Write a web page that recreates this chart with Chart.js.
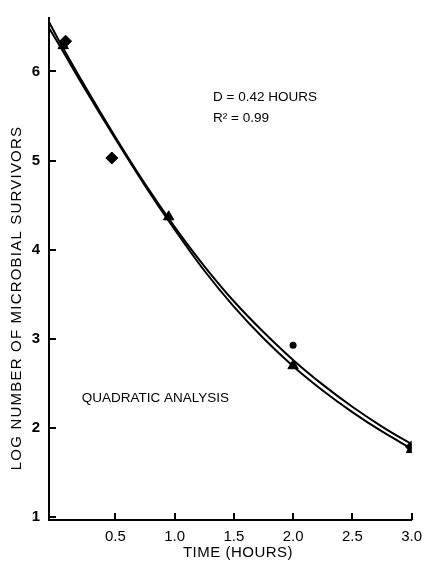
<!DOCTYPE html>
<html>
<head>
<meta charset="utf-8">
<script src="https://cdn.jsdelivr.net/npm/chart.js@4.4.1/dist/chart.umd.min.js"></script>
<style>
  html, body { margin: 0; padding: 0; background: #fff; }
  #wrap { width: 430px; height: 564px; }
</style>
</head>
<body>
<div id="wrap"><canvas id="survivorChart" width="430" height="564"></canvas></div>
<script>
'use strict';

// the two fitted curves at these times
const curveTimes = [-0.06, 0, 0.25, 0.5, 0.75, 1.0, 1.25, 1.5, 1.75, 2.0, 2.25, 2.5, 2.75, 3.0];
const curveUpper = [6.555, 6.405, 5.82, 5.265, 4.74, 4.258, 3.818, 3.423, 3.078, 2.765, 2.488, 2.24, 2.018, 1.82];
const curveLower = [6.485, 6.355, 5.79, 5.245, 4.72, 4.228, 3.768, 3.363, 3.008, 2.695, 2.423, 2.18, 1.963, 1.77];

// observed survivors
const diamondTimes = [0.08, 0.47, 3.0];
const diamondLogs = [6.34, 5.03, 1.79];
const triangleTimes = [0.06, 0.95, 2.0, 3.0];
const triangleLogs = [6.29, 4.37, 2.70, 1.76];
const circleTimes = [2.0];
const circleLogs = [2.93];

const xTickValues = [0.5, 1.0, 1.5, 2.0, 2.5, 3.0];
const yTickValues = [1, 2, 3, 4, 5, 6];

const xTitle = 'TIME (HOURS)';
const yTitle = 'LOG NUMBER OF MICROBIAL SURVIVORS';
const notes = [
    { text: 'D = 0.42 HOURS', x: 1.325, y: 5.71 },
    { text: 'R\u00B2 = 0.99', x: 1.325, y: 5.47 },
    { text: 'QUADRATIC ANALYSIS', x: 0.217, y: 2.33 }
];

const FONT = "'Liberation Sans', Arial, sans-serif";

function toPoints(xs, ys) {
    const out = [];
    for (let i = 0; i < xs.length; i++) {
        out.push({ x: xs[i], y: ys[i] });
    }
    return out;
}

// ticks in the original point into the plot, titles sit a bit off-centre
const decorations = {
    id: 'decorations',
    afterDraw(chart) {
        const c = chart.ctx;
        const area = chart.chartArea;
        const sx = chart.scales.x;
        const sy = chart.scales.y;
        c.save();
        c.fillStyle = '#000';
        xTickValues.forEach(v => {
            const px = Math.round(sx.getPixelForValue(v));
            c.fillRect(px - 1, area.bottom - 7, 2, 7);
        });
        yTickValues.forEach(v => {
            const py = Math.round(sy.getPixelForValue(v));
            c.fillRect(area.left, py - 1, 7, 2);
        });

        c.font = '13.5px ' + FONT;
        c.textBaseline = 'middle';
        c.textAlign = 'left';
        notes.forEach(n => {
            c.fillText(n.text, sx.getPixelForValue(n.x), sy.getPixelForValue(n.y));
        });

        c.font = '15px ' + FONT;
        c.textAlign = 'center';
        c.letterSpacing = '0.5px';
        c.fillText(xTitle, 238, 553);

        c.translate(17, 298);
        c.rotate(-Math.PI / 2);
        c.letterSpacing = '1.2px';
        c.fillText(yTitle, 0, 0);
        c.restore();
    }
};

const ctx = document.getElementById('survivorChart').getContext('2d');
window.myChart = new Chart(ctx, {
    type: 'line',
    data: {
        datasets: [
            {
                data: toPoints(curveTimes, curveUpper),
                borderColor: '#000', borderWidth: 2, pointRadius: 0,
                cubicInterpolationMode: 'monotone', fill: false
            },
            {
                data: toPoints(curveTimes, curveLower),
                borderColor: '#000', borderWidth: 2, pointRadius: 0,
                cubicInterpolationMode: 'monotone', fill: false
            },
            {
                data: toPoints(diamondTimes, diamondLogs),
                showLine: false, pointStyle: 'rectRot', pointRadius: 6,
                backgroundColor: '#000', borderColor: '#000', borderWidth: 1
            },
            {
                data: toPoints(triangleTimes, triangleLogs),
                showLine: false, pointStyle: 'triangle', pointRadius: 6,
                backgroundColor: '#000', borderColor: '#000', borderWidth: 1
            },
            {
                data: toPoints(circleTimes, circleLogs),
                showLine: false, pointStyle: 'circle', pointRadius: 3.5,
                backgroundColor: '#000', borderColor: '#000', borderWidth: 0
            }
        ]
    },
    options: {
        responsive: false,
        animation: false,
        devicePixelRatio: 1,
        layout: { padding: { top: 13, right: 14, left: 0, bottom: 0 } },
        plugins: {
            legend: { display: false },
            tooltip: { enabled: false }
        },
        scales: {
            x: {
                type: 'linear',
                min: -0.06,
                max: 3.0,
                afterBuildTicks: s => { s.ticks = xTickValues.map(v => ({ value: v })); },
                afterFit: s => { s.height = 44; },
                grid: { display: false, drawTicks: false },
                border: { display: true, color: '#000', width: 2 },
                ticks: {
                    color: '#000', padding: 8,
                    font: { family: FONT, size: 15 },
                    callback: v => v.toFixed(1)
                }
            },
            y: {
                type: 'linear',
                min: 0.97,
                max: 6.6,
                afterBuildTicks: s => { s.ticks = yTickValues.map(v => ({ value: v })); },
                afterFit: s => { s.width = 49; },
                grid: { display: false, drawTicks: false },
                border: { display: true, color: '#000', width: 2 },
                ticks: {
                    color: '#000', padding: 9,
                    font: { family: FONT, size: 15, weight: 'bold' },
                    callback: v => String(v)
                }
            }
        }
    },
    plugins: [decorations]
});
</script>
</body>
</html>
